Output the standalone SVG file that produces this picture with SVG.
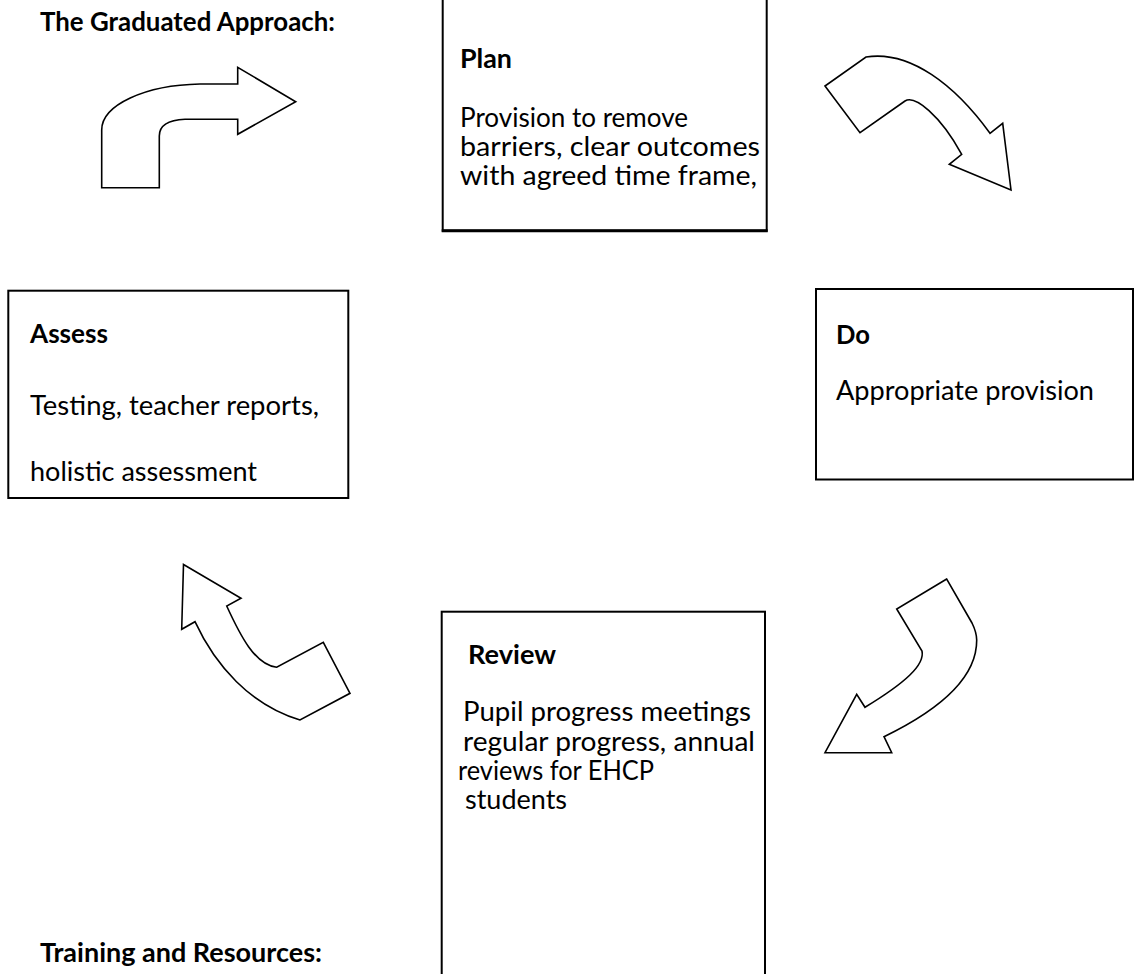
<svg xmlns="http://www.w3.org/2000/svg" width="1144" height="974" viewBox="0 0 1144 974">
<style>
.box{fill:#fff;stroke:#000;stroke-width:2}
.arrow{fill:#fff;stroke:#000;stroke-width:1.6;stroke-linejoin:miter}
text{font-family:Lato,"Liberation Sans",sans-serif;font-size:26px;fill:#000}
.b{font-weight:bold}
</style>
<rect width="1144" height="974" fill="#fff"/>
<g id="title"><text class="b" x="40" y="31" textLength="295" lengthAdjust="spacingAndGlyphs">The Graduated Approach:</text></g>
<g id="node-plan">
<rect class="box" x="442.7" y="-3" width="324" height="233.7"/>
<line x1="441.7" y1="230.7" x2="767.7" y2="230.7" stroke="#000" stroke-width="3"/>
<text class="b" x="460" y="68" textLength="52" lengthAdjust="spacingAndGlyphs">Plan</text>
<text x="460" y="127" textLength="228" lengthAdjust="spacingAndGlyphs">Provision to remove</text>
<text x="460" y="156" textLength="300" lengthAdjust="spacingAndGlyphs">barriers, clear outcomes</text>
<text x="460" y="185" textLength="297" lengthAdjust="spacingAndGlyphs">with agreed time frame,</text>
</g>
<g id="node-assess">
<rect class="box" x="8.3" y="290.7" width="340" height="207.3"/>
<text class="b" x="30" y="343" textLength="78" lengthAdjust="spacingAndGlyphs">Assess</text>
<text x="30" y="415" textLength="289" lengthAdjust="spacingAndGlyphs">Testing, teacher reports,</text>
<text x="30" y="481" textLength="227" lengthAdjust="spacingAndGlyphs">holistic assessment</text>
</g>
<g id="node-do">
<rect class="box" x="816" y="289" width="317" height="190.5"/>
<text class="b" x="836" y="344" textLength="34" lengthAdjust="spacingAndGlyphs">Do</text>
<text x="836" y="400" textLength="258" lengthAdjust="spacingAndGlyphs">Appropriate provision</text>
</g>
<g id="node-review">
<rect class="box" x="441.7" y="611.7" width="323.3" height="370"/>
<text class="b" x="468" y="664" textLength="88" lengthAdjust="spacingAndGlyphs">Review</text>
<text x="463" y="721" textLength="288" lengthAdjust="spacingAndGlyphs">Pupil progress meetings</text>
<text x="463" y="751" textLength="292" lengthAdjust="spacingAndGlyphs">regular progress, annual</text>
<text x="458" y="780" textLength="196" lengthAdjust="spacingAndGlyphs">reviews for EHCP</text>
<text x="465" y="809" textLength="102" lengthAdjust="spacingAndGlyphs">students</text>
</g>
<g id="footer"><text class="b" x="40" y="962" textLength="282" lengthAdjust="spacingAndGlyphs">Training and Resources:</text></g>
<g id="connectors">
<path id="arrow-assess-plan" class="arrow" d="M101.7,187.7 L159.3,187.7 L159.3,136 C159.3,126 168,120 185,119.3 L237.7,119.3 L237.7,134.3 L295.7,101.7 L237.7,67.3 L237.7,84 L200,84 C145,85 101.7,105 101.7,130 Z"/>
<path id="arrow-plan-do" class="arrow" d="M825,86 L860,132.7 L905,101 C915,95 940,115 961.7,154.3 L949.3,164.3 L1011,190 L1002.7,123.3 L990,133.3 C955,85 910,50 866,57 Z"/>
<path id="arrow-do-review" class="arrow" d="M946.7,579 L896.7,609 L922,651 C925,665 905,683 865,707.3 L856.7,694.3 L825,752.7 L891.7,752.7 L884,736.7 C935,712 977,680 976.7,640 C976.5,632 974,627 972,623 Z"/>
<path id="arrow-review-assess" class="arrow" d="M183.5,564.5 L241,598.3 L226.7,606 C240,635 255,665 276.7,667.3 L323.3,642.3 L350,693.3 L300,720 C250,705 215,665 195,621.7 L181.7,629.3 Z"/>
</g>
</svg>
